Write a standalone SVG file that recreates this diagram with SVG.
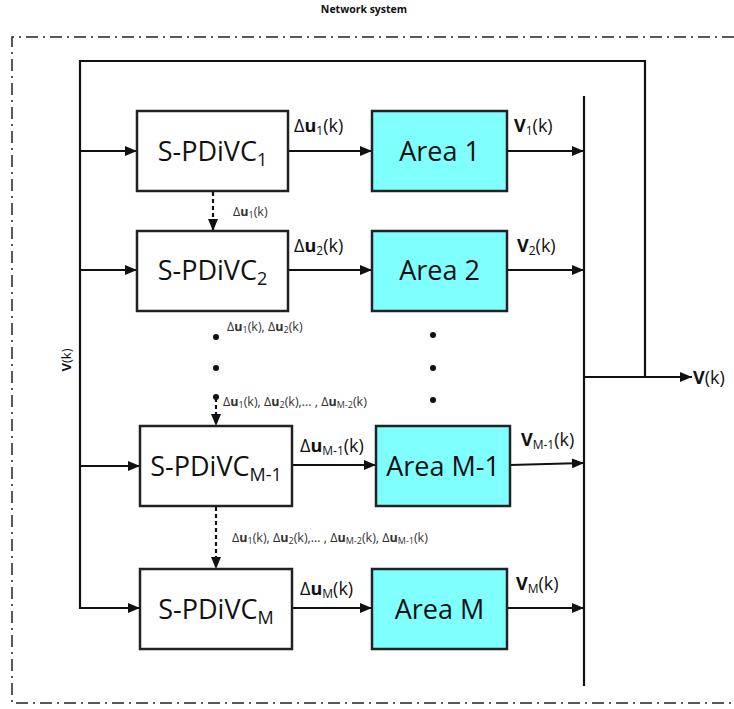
<svg xmlns="http://www.w3.org/2000/svg" width="734" height="709" viewBox="0 0 734 709">
<style>
  .bg { fill: #ffffff; }
  .frame { fill: none; stroke: #222; stroke-width: 1.5; stroke-dasharray: 12 5 2 5; }
  .ctrl { fill: #ffffff; stroke: #222; stroke-width: 2.5; }
  .area { fill: #80ffff; stroke: #222; stroke-width: 2.5; }
  .wire { fill: none; stroke: #111; stroke-width: 2.2; }
  .dash { fill: none; stroke: #111; stroke-width: 2.2; stroke-dasharray: 4 3; }
  .dot { fill: #111; }
  text { font-family: "Open Sans", "Liberation Sans", sans-serif; fill: #111; }
  .big { font-size: 27px; }
  .lbl { font-size: 18px; }
  .sm { font-size: 12.5px; fill: #333; }
  .b { font-weight: bold; }
</style>
<defs>
  <marker id="ah" markerUnits="userSpaceOnUse" markerWidth="12" markerHeight="10" refX="12" refY="5" orient="auto">
    <path d="M0,0 L12,5 L0,10 z" fill="#111"/>
  </marker>
</defs>
<rect class="bg" x="0" y="0" width="734" height="709"/>

<text x="364" y="13" text-anchor="middle" font-size="10.5" class="b">Network system</text>
<path class="frame" d="M734,37 H12 V703 H734"/>

<g id="connectors">
  <path class="wire" d="M645,377 V61 H80 V608 H140" marker-end="url(#ah)"/>
  <line class="wire" x1="80" y1="151" x2="137" y2="151" marker-end="url(#ah)"/>
  <line class="wire" x1="80" y1="270" x2="137" y2="270" marker-end="url(#ah)"/>
  <line class="wire" x1="80" y1="466" x2="140" y2="466" marker-end="url(#ah)"/>
  <line class="wire" x1="288" y1="151" x2="372" y2="151" marker-end="url(#ah)"/>
  <line class="wire" x1="288" y1="270" x2="372" y2="270" marker-end="url(#ah)"/>
  <line class="wire" x1="292" y1="465" x2="376" y2="465" marker-end="url(#ah)"/>
  <line class="wire" x1="292" y1="608" x2="372" y2="608" marker-end="url(#ah)"/>
  <line class="wire" x1="507" y1="151" x2="584" y2="151" marker-end="url(#ah)"/>
  <line class="wire" x1="507" y1="270" x2="584" y2="270" marker-end="url(#ah)"/>
  <line class="wire" x1="510" y1="465" x2="584" y2="463" marker-end="url(#ah)"/>
  <line class="wire" x1="507" y1="608" x2="584" y2="608" marker-end="url(#ah)"/>
  <line class="wire" x1="584" y1="96" x2="584" y2="686"/>
  <line class="wire" x1="584" y1="377" x2="692" y2="377" marker-end="url(#ah)"/>
  <line class="dash" x1="213" y1="192" x2="213" y2="231" marker-end="url(#ah)"/>
  <line class="dash" x1="216" y1="398" x2="216" y2="426" marker-end="url(#ah)"/>
  <line class="dash" x1="216" y1="507" x2="216" y2="569" marker-end="url(#ah)"/>
  <circle class="dot" cx="216" cy="337" r="3"/>
  <circle class="dot" cx="216" cy="368" r="3"/>
  <circle class="dot" cx="216" cy="397" r="3"/>
  <circle class="dot" cx="433" cy="335" r="3"/>
  <circle class="dot" cx="433" cy="368" r="3"/>
  <circle class="dot" cx="433" cy="400" r="3"/>
</g>

<g id="ctrl1">
  <rect class="ctrl" x="137" y="111" width="151" height="80"/>
  <text class="big" x="212.5" y="161" text-anchor="middle">S-PDiVC<tspan font-size="18" dy="5">1</tspan></text>
</g>
<g id="ctrl2">
  <rect class="ctrl" x="137" y="231" width="151" height="80"/>
  <text class="big" x="212.5" y="280" text-anchor="middle">S-PDiVC<tspan font-size="18" dy="5">2</tspan></text>
</g>
<g id="ctrlM1">
  <rect class="ctrl" x="140" y="426" width="152" height="80"/>
  <text class="big" x="216" y="476" text-anchor="middle">S-PDiVC<tspan font-size="18" dy="5">M-1</tspan></text>
</g>
<g id="ctrlM">
  <rect class="ctrl" x="140" y="569" width="152" height="80"/>
  <text class="big" x="216" y="619" text-anchor="middle">S-PDiVC<tspan font-size="18" dy="5">M</tspan></text>
</g>

<g id="area1">
  <rect class="area" x="372" y="111" width="135" height="80"/>
  <text class="big" x="439.5" y="161" text-anchor="middle">Area 1</text>
</g>
<g id="area2">
  <rect class="area" x="372" y="231" width="135" height="80"/>
  <text class="big" x="439.5" y="280" text-anchor="middle">Area 2</text>
</g>
<g id="areaM1">
  <rect class="area" x="376" y="426" width="134" height="80"/>
  <text class="big" x="443" y="476" text-anchor="middle">Area M-1</text>
</g>
<g id="areaM">
  <rect class="area" x="372" y="569" width="135" height="80"/>
  <text class="big" x="439.5" y="619" text-anchor="middle">Area M</text>
</g>

<g id="labels">
  <text class="lbl" x="294" y="132">Δ<tspan class="b">u</tspan><tspan font-size="12" dy="3">1</tspan><tspan dy="-3">(k)</tspan></text>
  <text class="lbl" x="294" y="252">Δ<tspan class="b">u</tspan><tspan font-size="12" dy="3">2</tspan><tspan dy="-3">(k)</tspan></text>
  <text class="lbl" x="300" y="452">Δ<tspan class="b">u</tspan><tspan font-size="12" dy="3">M-1</tspan><tspan dy="-3">(k)</tspan></text>
  <text class="lbl" x="300" y="595">Δ<tspan class="b">u</tspan><tspan font-size="12" dy="3">M</tspan><tspan dy="-3">(k)</tspan></text>
  <text class="lbl" x="514" y="132"><tspan class="b">V</tspan><tspan font-size="12" dy="3">1</tspan><tspan dy="-3">(k)</tspan></text>
  <text class="lbl" x="517" y="252"><tspan class="b">V</tspan><tspan font-size="12" dy="3">2</tspan><tspan dy="-3">(k)</tspan></text>
  <text class="lbl" x="521" y="446"><tspan class="b">V</tspan><tspan font-size="12" dy="3">M-1</tspan><tspan dy="-3">(k)</tspan></text>
  <text class="lbl" x="516" y="590"><tspan class="b">V</tspan><tspan font-size="12" dy="3">M</tspan><tspan dy="-3">(k)</tspan></text>
  <text class="lbl" x="693" y="384"><tspan class="b">V</tspan>(k)</text>
  <text font-size="13" transform="translate(71,360) rotate(-90)" text-anchor="middle"><tspan class="b">V</tspan>(k)</text>
  <text class="sm" x="233" y="216">Δ<tspan class="b">u</tspan><tspan font-size="9" dy="2">1</tspan><tspan dy="-2">(k)</tspan></text>
  <text class="sm" x="227" y="331">Δ<tspan class="b">u</tspan><tspan font-size="9" dy="2">1</tspan><tspan dy="-2">(k), Δ</tspan><tspan class="b">u</tspan><tspan font-size="9" dy="2">2</tspan><tspan dy="-2">(k)</tspan></text>
  <text class="sm" x="223" y="406">Δ<tspan class="b">u</tspan><tspan font-size="9" dy="2">1</tspan><tspan dy="-2">(k), Δ</tspan><tspan class="b">u</tspan><tspan font-size="9" dy="2">2</tspan><tspan dy="-2">(k),… , Δ</tspan><tspan class="b">u</tspan><tspan font-size="9" dy="2">M-2</tspan><tspan dy="-2">(k)</tspan></text>
  <text class="sm" x="232" y="542">Δ<tspan class="b">u</tspan><tspan font-size="9" dy="2">1</tspan><tspan dy="-2">(k), Δ</tspan><tspan class="b">u</tspan><tspan font-size="9" dy="2">2</tspan><tspan dy="-2">(k),… , Δ</tspan><tspan class="b">u</tspan><tspan font-size="9" dy="2">M-2</tspan><tspan dy="-2">(k), Δ</tspan><tspan class="b">u</tspan><tspan font-size="9" dy="2">M-1</tspan><tspan dy="-2">(k)</tspan></text>
</g>
</svg>
